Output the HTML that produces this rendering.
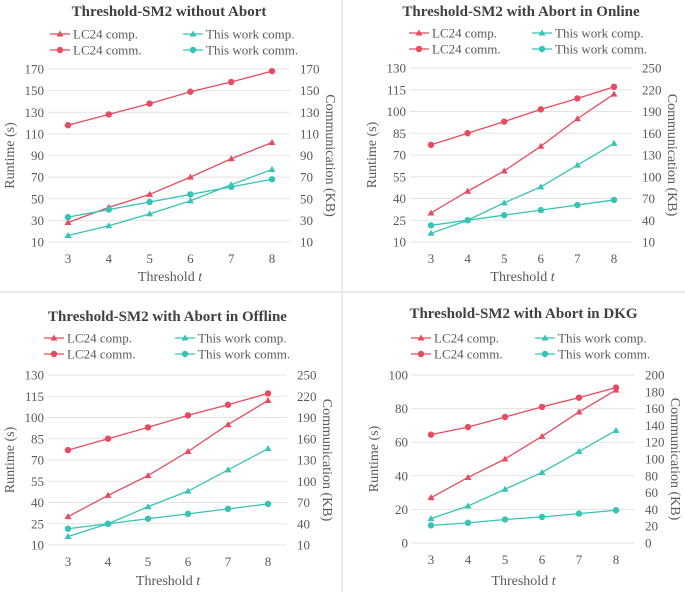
<!DOCTYPE html>
<html><head><meta charset="utf-8">
<style>
html,body{margin:0;padding:0;background:#fff;}
svg{display:block;}
svg text{font-family:"Liberation Serif","DejaVu Serif",serif;}
</style></head>
<body>
<svg id="root" width="685" height="592" viewBox="0 0 685 592" font-family="Liberation Serif, serif">
<line x1="342" y1="0" x2="342" y2="592" stroke="#e4e4e4" stroke-width="1.5"/>
<line x1="0" y1="292" x2="685" y2="292" stroke="#e4e4e4" stroke-width="1.5"/>
</svg>
<script>
const categories = [3,4,5,6,7,8];
// Panel 1: without abort
const p1LcComp = [28,42,54,70,87,102];
const p1LcComm = [118,128,138,149,158,168];
const p1TwComp = [16,25,36,48,63,77];
const p1TwComm = [33,40,47,54,61,68];
const p1LeftTicks = [10,30,50,70,90,110,130,150,170];
const p1RightTicks = [10,30,50,70,90,110,130,150,170];
// Panel 2: abort in online
const p2LcComp = [30,45,59,76,95,112];
const p2LcComm = [144,160,176,193,208,224];
const p2TwComp = [16,25,37,48,63,78];
const p2TwComm = [33,40,47,54,61,68];
const p2LeftTicks = [10,25,40,55,70,85,100,115,130];
const p2RightTicks = [10,40,70,100,130,160,190,220,250];
// Panel 3: abort in offline
const p3LcComp = [30,45,59,76,95,112];
const p3LcComm = [144,160,176,193,208,224];
const p3TwComp = [16,25,37,48,63,78];
const p3TwComm = [33,40,47,54,61,68];
const p3LeftTicks = [10,25,40,55,70,85,100,115,130];
const p3RightTicks = [10,40,70,100,130,160,190,220,250];
// Panel 4: abort in DKG
const p4LcComp = [27,39,50,63.5,78,91];
const p4LcComm = [129,138,150,162,173,185];
const p4TwComp = [14.5,22,32,42,54.5,67];
const p4TwComm = [21,24,28,31,35,39];
const p4LeftTicks = [0,20,40,60,80,100];
const p4RightTicks = [0,20,40,60,80,100,120,140,160,180,200];

const NS="http://www.w3.org/2000/svg";
const root=document.getElementById('root');
const RED="#e84a5f", TEAL="#35c4b5", TXT="#595959", FF="Liberation Serif, serif";
function mk(tag,attrs,parent){const e=document.createElementNS(NS,tag);for(const k in attrs)e.setAttribute(k,attrs[k]);if(tag==='text')e.setAttribute('font-family',FF);(parent||root).appendChild(e);return e;}

function panel(cfg){
  const g=mk('g',{});
  
  
  const L=cfg.left,R=cfg.right;
  const lmin=cfg.lt[0],lmax=cfg.lt[cfg.lt.length-1];
  const rmin=cfg.rt[0],rmax=cfg.rt[cfg.rt.length-1];
  const yL=v=>cfg.bot-(v-lmin)/(lmax-lmin)*(cfg.bot-cfg.top);
  const yR=v=>cfg.bot-(v-rmin)/(rmax-rmin)*(cfg.bot-cfg.top);
  const xS=i=>cfg.x0+(cfg.x1-cfg.x0)*i/(categories.length-1);
  const t=mk('text',{x:(L+R)/2,y:cfg.titleY,'text-anchor':'middle','font-size':15,'font-weight':'bold',fill:'#404040'},g);
  t.textContent=cfg.title;
  
  
  cfg.lt.forEach(v=>{
    const gl=mk('line',{x1:L,x2:R,y1:yL(v),y2:yL(v),stroke:'#e3e3e3','stroke-width':1},g);
    
    
    const tx=mk('text',{x:L-4,y:yL(v)+4.5,'text-anchor':'end','font-size':13,fill:TXT},g);
    tx.textContent=v;
    
    
  });
  cfg.rt.forEach(v=>{
    const tx=mk('text',{x:R+10,y:yR(v)+4.5,'text-anchor':'start','font-size':13,fill:TXT},g);
    tx.textContent=v;
    
    
  });
  categories.forEach((c,i)=>{
    const tx=mk('text',{x:xS(i),y:cfg.bot+21,'text-anchor':'middle','font-size':13,fill:TXT},g);
    tx.textContent=c;
    
    
  });
  const xt=mk('text',{x:(cfg.x0+cfg.x1)/2,y:cfg.xTitleY,'text-anchor':'middle','font-size':14,fill:TXT},g);
  xt.innerHTML='Threshold <tspan font-style="italic">t</tspan>';
  
  
  const midY=(cfg.top+cfg.bot)/2;
  const yt=mk('text',{x:0,y:0,'text-anchor':'middle','font-size':14,fill:TXT,transform:`translate(${L-34},${midY}) rotate(-90)`},g);
  yt.textContent='Runtime (s)';
  
  
  const yt2=mk('text',{x:0,y:0,'text-anchor':'middle','font-size':14,fill:TXT,transform:`translate(${R+36},${midY}) rotate(90)`},g);
  yt2.textContent='Communication (KB)';
  
  
  const series=[
    {d:cfg.lcComp,ys:yL,c:RED,m:'tri',n:'LC24 comp.',id:'lc24-comp'},
    {d:cfg.lcComm,ys:yR,c:RED,m:'dot',n:'LC24 comm.',id:'lc24-comm'},
    {d:cfg.twComp,ys:yL,c:TEAL,m:'tri',n:'This work comp.',id:'this-work-comp'},
    {d:cfg.twComm,ys:yR,c:TEAL,m:'dot',n:'This work comm.',id:'this-work-comm'}];
  function marker(x,y,s,par){
    let e;
    if(s.m==='tri') e=mk('polygon',{points:`${x},${y-3.5} ${x-3.5},${y+2.5} ${x+3.5},${y+2.5}`,fill:s.c},par);
    else e=mk('circle',{cx:x,cy:y,r:3.2,fill:s.c},par);
    return e;
  }
  series.forEach(s=>{
    const sg=mk('g',{},g);
    
    
    const pts=s.d.map((v,i)=>xS(i)+','+s.ys(v)).join(' ');
    const pl=mk('polyline',{points:pts,fill:'none',stroke:s.c,'stroke-width':1.3},sg);
    
    
    s.d.forEach((v,i)=>{
      const m=marker(xS(i),s.ys(v),s,sg);
      
      
    });
  });
  series.forEach((s,k)=>{
    const lx=k<2?cfg.leg1:cfg.leg2, ly=k%2===0?cfg.legY:cfg.legY+16;
    const lg=mk('g',{},g);
    
    
    mk('line',{x1:lx,x2:lx+20,y1:ly,y2:ly,stroke:s.c,'stroke-width':1.3},lg);
    marker(lx+10,ly,s,lg);
    const tx=mk('text',{x:lx+23,y:ly+4.5,'font-size':13,fill:TXT},lg);
    tx.textContent=s.n;
  });
}
panel({name:'chart-without-abort',title:'Threshold-SM2 without Abort',left:48,right:290,top:69,bot:242,x0:68,x1:272,titleY:16,legY:34,leg1:50,leg2:183,xTitleY:281,lt:p1LeftTicks,rt:p1RightTicks,lcComp:p1LcComp,lcComm:p1LcComm,twComp:p1TwComp,twComm:p1TwComm});
panel({name:'chart-abort-online',title:'Threshold-SM2 with Abort in Online',left:410,right:632,top:68,bot:242,x0:431,x1:614,titleY:16,legY:33,leg1:409,leg2:532,xTitleY:281,lt:p2LeftTicks,rt:p2RightTicks,lcComp:p2LcComp,lcComm:p2LcComm,twComp:p2TwComp,twComm:p2TwComm});
panel({name:'chart-abort-offline',title:'Threshold-SM2 with Abort in Offline',left:48,right:287,top:375,bot:545,x0:68,x1:268,titleY:321,legY:338,leg1:44,leg2:175,xTitleY:585,lt:p3LeftTicks,rt:p3RightTicks,lcComp:p3LcComp,lcComm:p3LcComm,twComp:p3TwComp,twComm:p3TwComm});
panel({name:'chart-abort-dkg',title:'Threshold-SM2 with Abort in DKG',left:412,right:635,top:375,bot:543,x0:431,x1:616,titleY:318,legY:338,leg1:411,leg2:535,xTitleY:585,lt:p4LeftTicks,rt:p4RightTicks,lcComp:p4LcComp,lcComm:p4LcComm,twComp:p4TwComp,twComm:p4TwComm});
</script>
</body></html>
